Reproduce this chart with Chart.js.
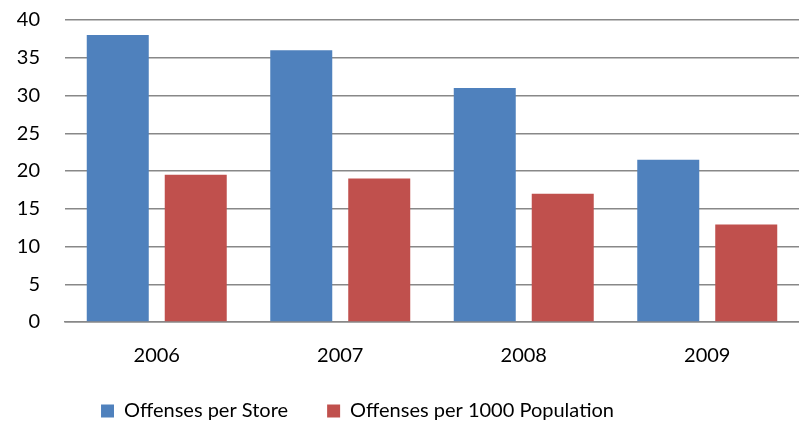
<!DOCTYPE html>
<html>
<head>
<meta charset="utf-8">
<script src="https://cdn.jsdelivr.net/npm/chart.js@4/dist/chart.umd.min.js"></script>
<style>
  html, body { margin: 0; padding: 0; background: #fff; }
  #chart { display: block; }
</style>
</head>
<body>
<canvas id="chart" width="799" height="427"></canvas>
<script>
// years on the x axis
const years = ["2006", "2007", "2008", "2009"];
// offenses per store, by year
const perStore = [38, 36, 31, 21.5];
// offenses per 1000 population, by year
const perPopulation = [19.5, 19, 17, 12.9];
// y axis range
const yMin = 0, yMax = 40, yStep = 5;

const font = { family: "Lato, 'Open Sans', sans-serif", size: 20 };

// keep the legend box a fixed height so its wide item padding
// doesn't push the plot upward, and sit it a bit left of centre
const legendPlace = {
  id: "legendPlace",
  beforeInit(chart) {
    const fit = chart.legend.fit;
    chart.legend.fit = function () {
      fit.call(this);
      this.height = 65;
    };
  },
  afterLayout(chart) {
    chart.legend.left = 0;
    chart.legend.right = 715;
  },
};

const ctx = document.getElementById("chart").getContext("2d");
new Chart(ctx, {
  type: "bar",
  data: {
    labels: years,
    datasets: [
      {
        label: "Offenses per Store",
        data: perStore,
        backgroundColor: "#4f81bd",
        categoryPercentage: 0.85,
        barPercentage: 0.795,
      },
      {
        label: "Offenses per 1000 Population",
        data: perPopulation,
        backgroundColor: "#c0504d",
        categoryPercentage: 0.85,
        barPercentage: 0.795,
      },
    ],
  },
  plugins: [legendPlace],
  options: {
    responsive: false,
    animation: false,
    layout: { padding: { top: 20, right: 0, bottom: 0, left: 0 } },
    plugins: {
      tooltip: { enabled: false },
      legend: {
        position: "bottom",
        labels: {
          color: "#000",
          font: font,
          boxWidth: 13,
          boxHeight: 13,
          padding: 39,
        },
      },
    },
    scales: {
      x: {
        afterFit: (scale) => { scale.height = 40; },
        grid: { display: false, drawTicks: false },
        border: { color: "#888", width: 1.5 },
        ticks: { color: "#000", font: font, padding: 22 },
      },
      y: {
        min: yMin,
        max: yMax,
        afterFit: (scale) => {
          scale.width = 65;
          scale.paddingTop = 0;
          scale.paddingBottom = 0;
        },
        grid: { color: "#888", lineWidth: 1.5, drawTicks: false },
        border: { display: false },
        ticks: { stepSize: yStep, color: "#000", font: font, padding: 25 },
      },
    },
  },
});
</script>
</body>
</html>
